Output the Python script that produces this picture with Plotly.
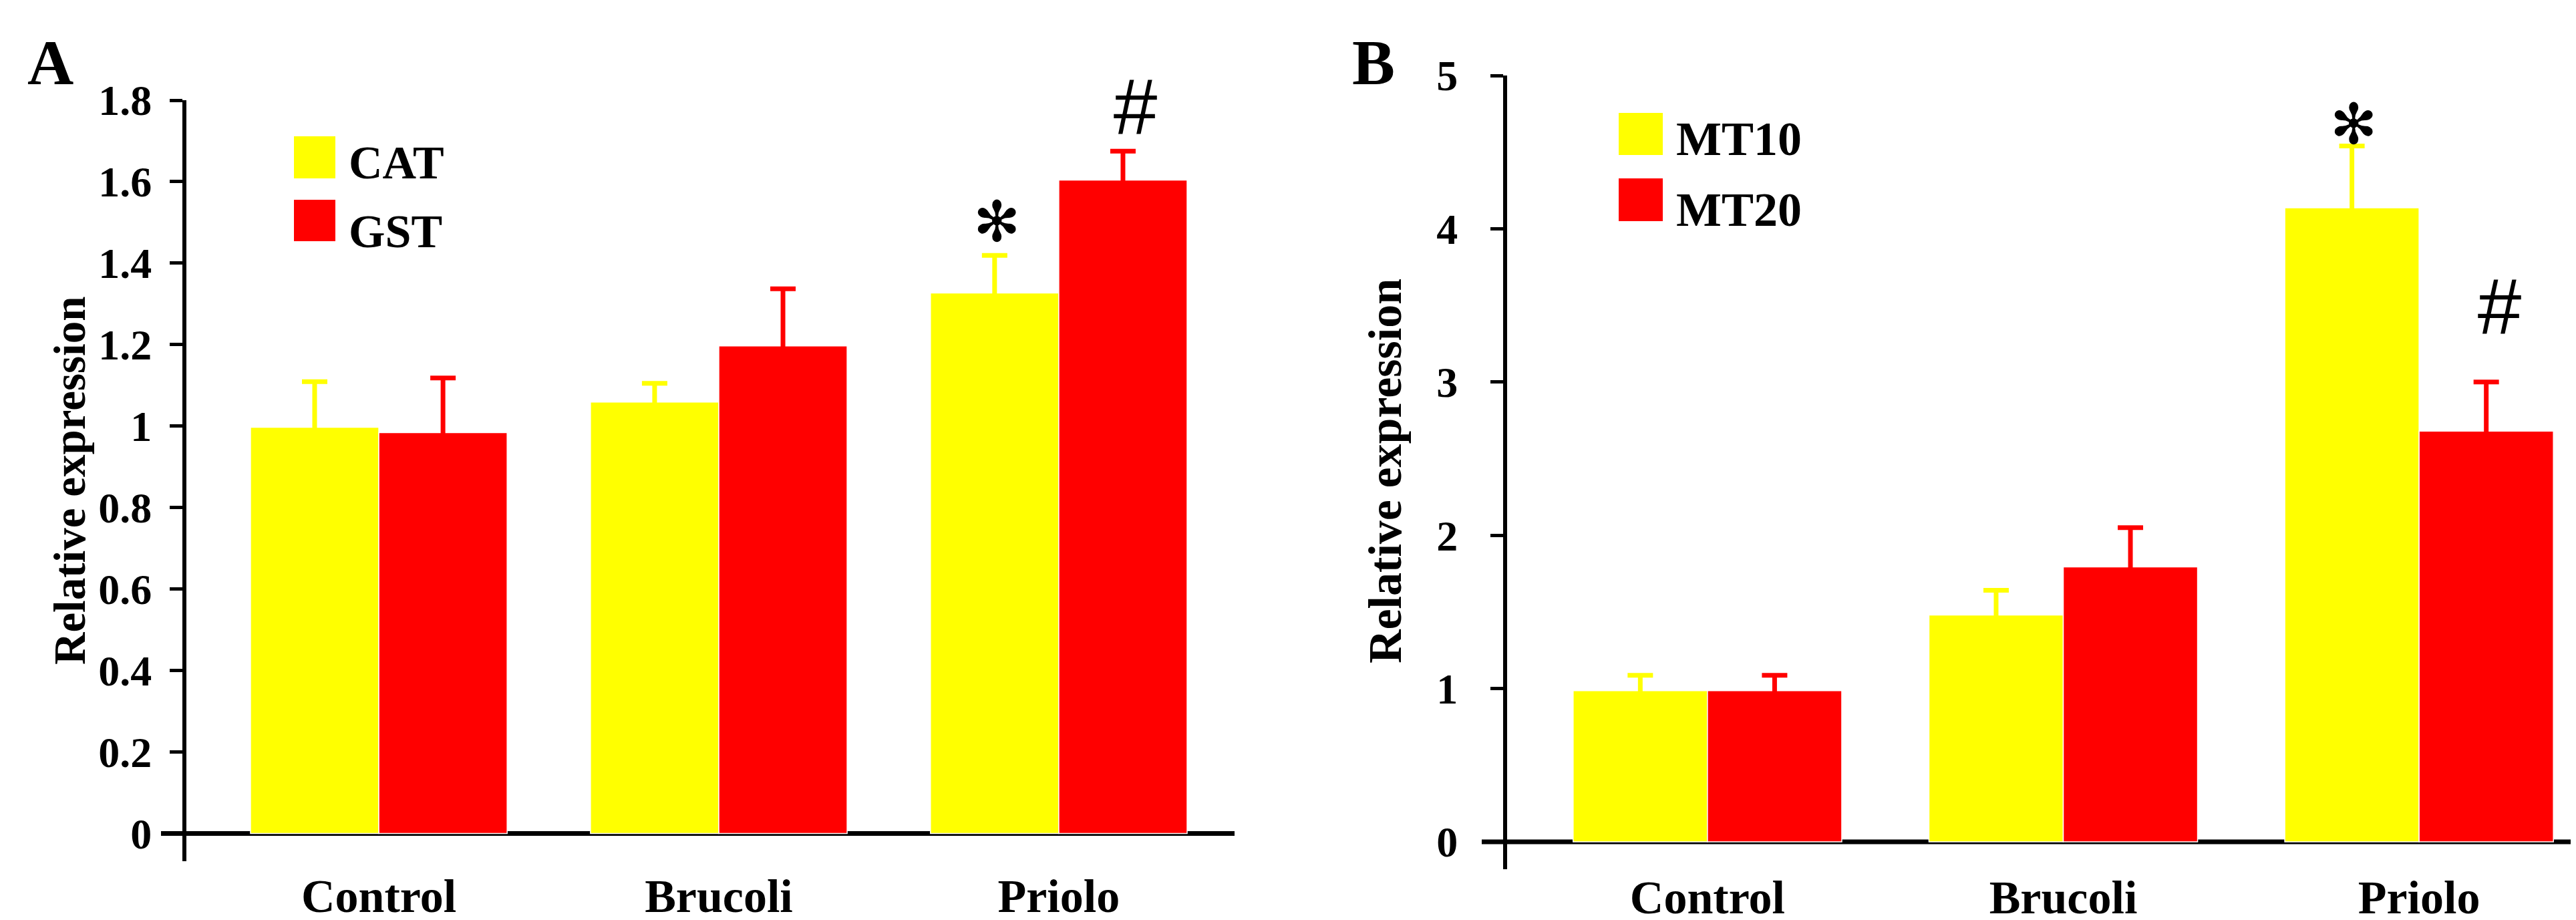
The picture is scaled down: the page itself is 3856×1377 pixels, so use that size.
import plotly.graph_objects as go

# ---------------- data ----------------
categories = ["Control", "Brucoli", "Priolo"]

# Panel A
cat_vals = [0.997, 1.059, 1.327]
cat_err = [0.112, 0.046, 0.092]
gst_vals = [0.984, 1.197, 1.604]
gst_err = [0.134, 0.140, 0.071]
a_tickvals = [0, 0.2, 0.4, 0.6, 0.8, 1.0, 1.2, 1.4, 1.6, 1.8]
a_ticktext = ["0", "0.2", "0.4", "0.6", "0.8", "1", "1.2", "1.4", "1.6", "1.8"]

# Panel B
mt10_vals = [0.986, 1.480, 4.137]
mt10_err = [0.100, 0.161, 0.403]
mt20_vals = [0.986, 1.794, 2.680]
mt20_err = [0.100, 0.256, 0.320]
b_tickvals = [0, 1, 2, 3, 4, 5]
b_ticktext = ["0", "1", "2", "3", "4", "5"]

# significance marks (placed on Priolo bars)
a_marks = ["\u273B", "#"]
b_marks = ["\u273B", "#"]

YELLOW = "#FFFF00"
RED = "#FF0000"
W, H = 3856, 1377
SERIF = "Liberation Serif"


def fx(px):
    return px / W


def fy(py):
    return 1 - py / H


fig = go.Figure()


def add_bar(name, vals, errs, color, xa, ya):
    fig.add_trace(go.Bar(
        x=categories, y=vals, name=name, xaxis=xa, yaxis=ya,
        marker=dict(color=color, line=dict(color="white", width=1.5)),
        error_y=dict(type="data", array=errs, symmetric=True,
                     color=color, thickness=7, width=19),
        showlegend=False,
    ))


add_bar("CAT", cat_vals, cat_err, YELLOW, "x", "y")
add_bar("GST", gst_vals, gst_err, RED, "x", "y")
add_bar("MT10", mt10_vals, mt10_err, YELLOW, "x2", "y2")
add_bar("MT20", mt20_vals, mt20_err, RED, "x2", "y2")

yax_common = dict(showline=True, linecolor="black", linewidth=6,
                  ticks="outside", ticklen=19, tickwidth=5, tickcolor="black",
                  showgrid=False, zeroline=False, automargin=False,
                  tickfont=dict(family=SERIF, size=64, color="black", weight="bold"))
xax_common = dict(showline=False, showgrid=False, zeroline=False, ticks="",
                  automargin=False,
                  tickfont=dict(family=SERIF, size=70, color="black", weight="bold"),
                  type="category")

fig.update_layout(
    width=W, height=H,
    margin=dict(l=0, r=0, t=0, b=0, autoexpand=False),
    paper_bgcolor="white", plot_bgcolor="white",
    barmode="group", bargap=0.245, bargroupgap=0,
    xaxis=dict(domain=[fx(271), fx(1840)], range=[-0.566, 2.517], anchor="y",
               ticklabelstandoff=5, **xax_common),
    yaxis=dict(domain=[fy(1281), fy(142)], range=[-0.068, 1.8], anchor="x",
               tickvals=a_tickvals, ticktext=a_ticktext, ticklabelstandoff=14,
               **yax_common),
    xaxis2=dict(domain=[fx(2248), 1.0], range=[-0.563, 2.456], anchor="y2",
                ticklabelstandoff=-5, **xax_common),
    yaxis2=dict(domain=[fy(1293), fy(105)], range=[-0.179, 5], anchor="x2",
                tickvals=b_tickvals, ticktext=b_ticktext, ticklabelstandoff=36,
                **yax_common),
)

# x axis lines at y=0, extending left past the y axis
shapes = [
    dict(type="line", xref="paper", yref="y", x0=fx(233), x1=fx(1840), y0=0, y1=0,
         line=dict(color="black", width=7), layer="below"),
    dict(type="line", xref="paper", yref="y2", x0=fx(2210), x1=1.0, y0=0, y1=0,
         line=dict(color="black", width=7), layer="below"),
    # legend swatches
    dict(type="rect", xref="paper", yref="paper", x0=fx(432), x1=fx(494), y0=fy(259), y1=fy(196),
         fillcolor=YELLOW, line=dict(width=0)),
    dict(type="rect", xref="paper", yref="paper", x0=fx(432), x1=fx(494), y0=fy(353), y1=fy(291),
         fillcolor=RED, line=dict(width=0)),
    dict(type="rect", xref="paper", yref="paper", x0=fx(2415), x1=fx(2481), y0=fy(224), y1=fy(161),
         fillcolor=YELLOW, line=dict(width=0)),
    dict(type="rect", xref="paper", yref="paper", x0=fx(2415), x1=fx(2481), y0=fy(323), y1=fy(259),
         fillcolor=RED, line=dict(width=0)),
]
fig.update_layout(shapes=shapes)

ann = []


def text(x, y, s, size, xanchor="left", family=SERIF, weight="bold", style="normal", angle=0):
    ann.append(dict(x=fx(x), y=fy(y), xref="paper", yref="paper", text=s, showarrow=False,
                    xanchor=xanchor, yanchor="middle", textangle=angle,
                    font=dict(family=family, size=size, color="black", weight=weight, style=style)))


# panel letters
text(67, 86, "A", 96, xanchor="center")
text(2048, 86, "B", 96, xanchor="center")
# legend labels
text(512, 236, "CAT", 70)
text(512, 339, "GST", 70)
text(2499, 200, "MT10", 72)
text(2499, 306, "MT20", 72)
# y-axis titles
text(96, 712, "Relative expression", 67, xanchor="center", angle=-90)
text(2065, 697, "Relative expression", 70, xanchor="center", angle=-90)

# significance marks above the Priolo bars (numeric category positions)
off = (1 - 0.245) / 4
sig = [
    ("x", "y", 2 - off, cat_vals[2] + cat_err[2], a_marks[0], 50, 3, "star"),
    ("x", "y", 2 + off, gst_vals[2] + gst_err[2], a_marks[1], 66, 18, "hash"),
    ("x2", "y2", 2 - off, mt10_vals[2] + mt10_err[2], b_marks[0], 33, 2, "star"),
    ("x2", "y2", 2 + off, mt20_vals[2] + mt20_err[2], b_marks[1], 113, 19, "hash"),
]
for xr, yr, xv, yv, s, dy, dx, kind in sig:
    if kind == "star":
        f = dict(family="DejaVu Sans", size=84, color="black")
        label = s
    else:
        f = dict(family="Liberation Sans", size=118, color="black", style="italic")
        label = "<i>" + s + "</i>"
    ann.append(dict(x=xv, y=yv, xref=xr, yref=yr, text=label, showarrow=False,
                    xanchor="center", yanchor="middle", yshift=dy, xshift=dx, font=f))

fig.update_layout(annotations=ann)
fig.write_html("out.html")
